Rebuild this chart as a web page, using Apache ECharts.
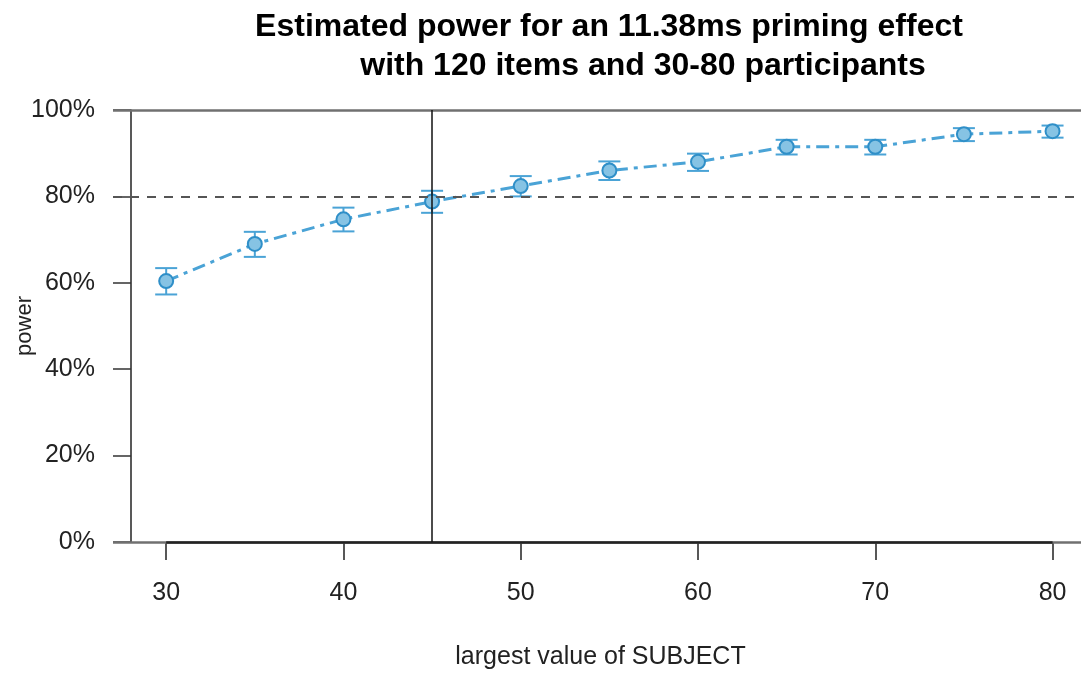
<!DOCTYPE html>
<html>
<head>
<meta charset="utf-8">
<script src="https://cdn.jsdelivr.net/npm/echarts@6/dist/echarts.min.js"></script>
<style>html,body{margin:0;padding:0;background:#fff;}#c{width:1081px;height:673px;}</style>
</head>
<body>
<div id="c"></div>
<script>
const subjects = [30, 35, 40, 45, 50, 55, 60, 65, 70, 75, 80];
const power = [0.604, 0.690, 0.747, 0.788, 0.824, 0.860, 0.880, 0.915, 0.915, 0.944, 0.951];
const lower = [0.573, 0.660, 0.719, 0.762, 0.800, 0.838, 0.859, 0.897, 0.897, 0.928, 0.936];
const upper = [0.634, 0.718, 0.774, 0.813, 0.847, 0.881, 0.899, 0.931, 0.931, 0.958, 0.964];
const xTicks = [30, 40, 50, 60, 70, 80];
const yTicks = [0, 0.2, 0.4, 0.6, 0.8, 1.0];
const targetPower = 0.8;
const markerSubject = 45;
const titleLine1 = 'Estimated power for an 11.38ms priming effect';
const titleLine2 = 'with 120 items and 30-80 participants';

const FONT = 'Liberation Sans, Arial, Helvetica, sans-serif';
const BLUE = '#4aa3d6';

const chart = echarts.init(document.getElementById('c'), null, {renderer: 'canvas'});
chart.setOption({
  backgroundColor: '#ffffff',
  animation: false,
  title: [
    {text: titleLine1, left: 604, top: 6, textAlign: 'center',
     textStyle: {fontFamily: FONT, fontSize: 32, fontWeight: 'bold', color: '#000'}},
    {text: titleLine2, left: 638, top: 45, textAlign: 'center',
     textStyle: {fontFamily: FONT, fontSize: 32, fontWeight: 'bold', color: '#000'}}
  ],
  grid: {left: 113, top: 110, width: 975, height: 432, containLabel: false, outerBoundsMode: 'none'},
  xAxis: {
    type: 'value', min: 27, max: 82,
    name: 'largest value of SUBJECT', nameLocation: 'middle', nameGap: 103,
    nameTextStyle: {fontFamily: FONT, fontSize: 25, color: '#222'},
    axisLine: {show: false},
    axisTick: {show: true, length: 18, inside: false, customValues: xTicks,
               lineStyle: {color: '#222', width: 1.5}},
    axisLabel: {customValues: xTicks, margin: 39, fontFamily: FONT, fontSize: 25, color: '#222'},
    splitLine: {show: false}
  },
  yAxis: {
    type: 'value', min: 0, max: 1, interval: 0.2, offset: -18,
    name: 'power', nameLocation: 'middle', nameGap: 95, nameRotate: 90, nameMoveOverlap: false,
    nameTextStyle: {fontFamily: FONT, fontSize: 22, color: '#222'},
    axisLine: {show: true, lineStyle: {color: '#222', width: 1.5}},
    axisTick: {show: true, length: 18, lineStyle: {color: '#333', width: 1.5}},
    axisLabel: {margin: 36, fontFamily: FONT, fontSize: 25, color: '#222',
                formatter: v => Math.round(v * 100) + '%'},
    splitLine: {show: false}
  },
  series: [
    {
      type: 'line', data: [], clip: false, silent: true,
      markLine: {
        silent: true, symbol: 'none', animation: false,
        label: {show: false},
        data: [
          {yAxis: 1, lineStyle: {color: '#707070', width: 2.5, type: 'solid'}},
          {yAxis: 0, lineStyle: {color: '#707070', width: 2.5, type: 'solid'}},
          {yAxis: targetPower, lineStyle: {color: '#555', width: 2, type: [9, 8]}},
          [{coord: [xTicks[0], 0], lineStyle: {color: '#222', width: 2.5, type: 'solid'}}, {coord: [xTicks[xTicks.length - 1], 0]}],
          [{coord: [markerSubject, 0], lineStyle: {color: '#111', width: 1.5, type: 'solid'}}, {coord: [markerSubject, 1]}]
        ]
      }
    },
    {
      type: 'custom', clip: false, silent: true,
      data: subjects.map((s, i) => [s, lower[i], upper[i]]),
      renderItem: function (params, api) {
        const x = api.value(0);
        const lo = api.coord([x, api.value(1)]);
        const hi = api.coord([x, api.value(2)]);
        const hw = 11;
        const st = {stroke: BLUE, lineWidth: 2, fill: null};
        return {type: 'group', children: [
          {type: 'line', shape: {x1: lo[0], y1: lo[1], x2: hi[0], y2: hi[1]}, style: st},
          {type: 'line', shape: {x1: lo[0] - hw, y1: lo[1], x2: lo[0] + hw, y2: lo[1]}, style: st},
          {type: 'line', shape: {x1: hi[0] - hw, y1: hi[1], x2: hi[0] + hw, y2: hi[1]}, style: st}
        ]};
      },
      z: 2
    },
    {
      type: 'line', data: subjects.map((s, i) => [s, power[i]]),
      symbol: 'circle', symbolSize: 14,
      itemStyle: {color: '#86c3e4', borderColor: '#2f8fc8', borderWidth: 2},
      lineStyle: {color: BLUE, width: 3, type: [13, 6, 4, 6]},
      z: 3
    }
  ]
});
</script>
</body>
</html>
